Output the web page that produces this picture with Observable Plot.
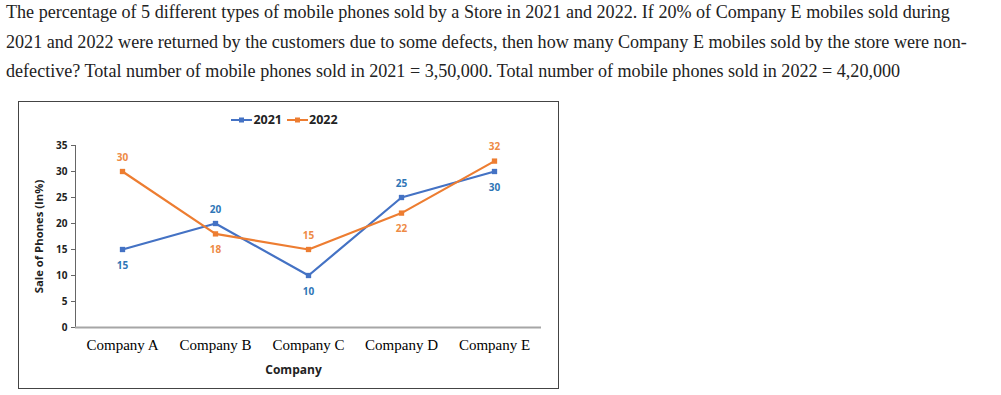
<!DOCTYPE html>
<html><head><meta charset="utf-8">
<script src="https://cdn.jsdelivr.net/npm/d3@7"></script>
<script src="https://cdn.jsdelivr.net/npm/@observablehq/plot@0.6"></script>
<style>
body{margin:0;background:#fff;width:1001px;height:395px;position:relative;overflow:hidden}
#title{position:absolute;left:6px;top:-2px;font-family:"Liberation Serif","Times New Roman",serif;font-size:18.1px;line-height:29.5px;color:#222;white-space:nowrap}
#box{position:absolute;left:18px;top:101px;width:539px;height:286px;border:1.5px solid #444;}
#legend{position:absolute;left:0;top:9px;width:100%;display:flex;justify-content:center;gap:5px;font-family:"Open Sans",sans-serif;font-weight:700;font-size:12.5px;color:#222;padding-right:8px;box-sizing:border-box}
#legend span{display:flex;align-items:center;gap:1px}
#chart{position:absolute;left:0;top:0}
</style></head>
<body>
<div id="title">The percentage of 5 different types of mobile phones sold by a Store in 2021 and 2022. If 20% of Company E mobiles sold during<br>2021 and 2022 were returned by the customers due to some defects, then how many Company E mobiles sold by the store were non-<br>defective? Total number of mobile phones sold in 2021 = 3,50,000. Total number of mobile phones sold in 2022 = 4,20,000</div>
<div id="box"><div id="legend"></div><div id="chart"></div></div>
<script>
const companies = ["Company A","Company B","Company C","Company D","Company E"];
const sales2021 = [15,20,10,25,30];
const sales2022 = [30,18,15,22,32];
const seriesNames = ["2021","2022"];
const yTicks = [0,5,10,15,20,25,30,35];
const lineColors = {"2021":"#4472C4","2022":"#ED7D31"};
const labelColors = {"2021":"#2E75B6","2022":"#EE8A45"};

const rows = [];
companies.forEach((c,i)=>{
  rows.push({company:c, series:"2021", value:sales2021[i], above: sales2021[i] > sales2022[i]});
  rows.push({company:c, series:"2022", value:sales2022[i], above: sales2022[i] > sales2021[i]});
});

// legend
const leg = document.getElementById("legend");
seriesNames.forEach(s=>{
  const sp = document.createElement("span");
  sp.innerHTML = `<svg width="21" height="8"><line x1="0" y1="4" x2="21" y2="4" stroke="${lineColors[s]}" stroke-width="2"/><rect x="8" y="1.5" width="5" height="5" fill="${lineColors[s]}"/></svg>${s}`;
  leg.appendChild(sp);
});

const W = 539, H = 286;
const plot = Plot.plot({
  width: W, height: H,
  marginLeft: 56, marginRight: 17, marginTop: 43, marginBottom: 61,
  style:{background:"transparent", overflow:"visible"},
  x:{type:"point", domain: companies, padding:0.5, label:null},
  y:{domain:[0,35], ticks: yTicks, label:null},
  marks:[
    Plot.frame({anchor:"left", stroke:"#666", strokeWidth:1}),
    Plot.ruleY([0], {stroke:"#a6a6a6", strokeWidth:2}),
    Plot.axisY({ticks:yTicks, tickSize:4, stroke:"#666", tickPadding:4, fontFamily:"Open Sans, sans-serif", fontWeight:700, fontSize:10, fill:"#222", label:null}),
    Plot.axisY({ticks:[], tickSize:0, label:"Sale of Phones (In%)", labelAnchor:"center", labelArrow:"none", labelOffset:41, fontFamily:"Open Sans, sans-serif", fontWeight:700, fontSize:11.3, fill:"#222"}),
    Plot.axisX({tickSize:0, tickPadding:12, fontFamily:"Liberation Serif, serif", fontSize:15, fill:"#000", label:null}),
    Plot.text(["Company"], {frameAnchor:"bottom", dy:46, dx:-15, fontFamily:"Open Sans, sans-serif", fontWeight:700, fontSize:12, fill:"#222"}),
    Plot.line(rows, {x:"company", y:"value", z:"series", stroke:d=>lineColors[d.series], strokeWidth:2.2}),
    Plot.dot(rows, {x:"company", y:"value", symbol:"square", r:3, fill:d=>lineColors[d.series], stroke:null}),
    Plot.text(rows.filter(d=>d.above), {x:"company", y:"value", text:d=>String(d.value), dy:-14, fill:d=>labelColors[d.series], fontFamily:"Open Sans, sans-serif", fontWeight:700, fontSize:10}),
    Plot.text(rows.filter(d=>!d.above), {x:"company", y:"value", text:d=>String(d.value), dy:16, fill:d=>labelColors[d.series], fontFamily:"Open Sans, sans-serif", fontWeight:700, fontSize:10})
  ]
});
document.getElementById("chart").appendChild(plot);
</script>
</body></html>
